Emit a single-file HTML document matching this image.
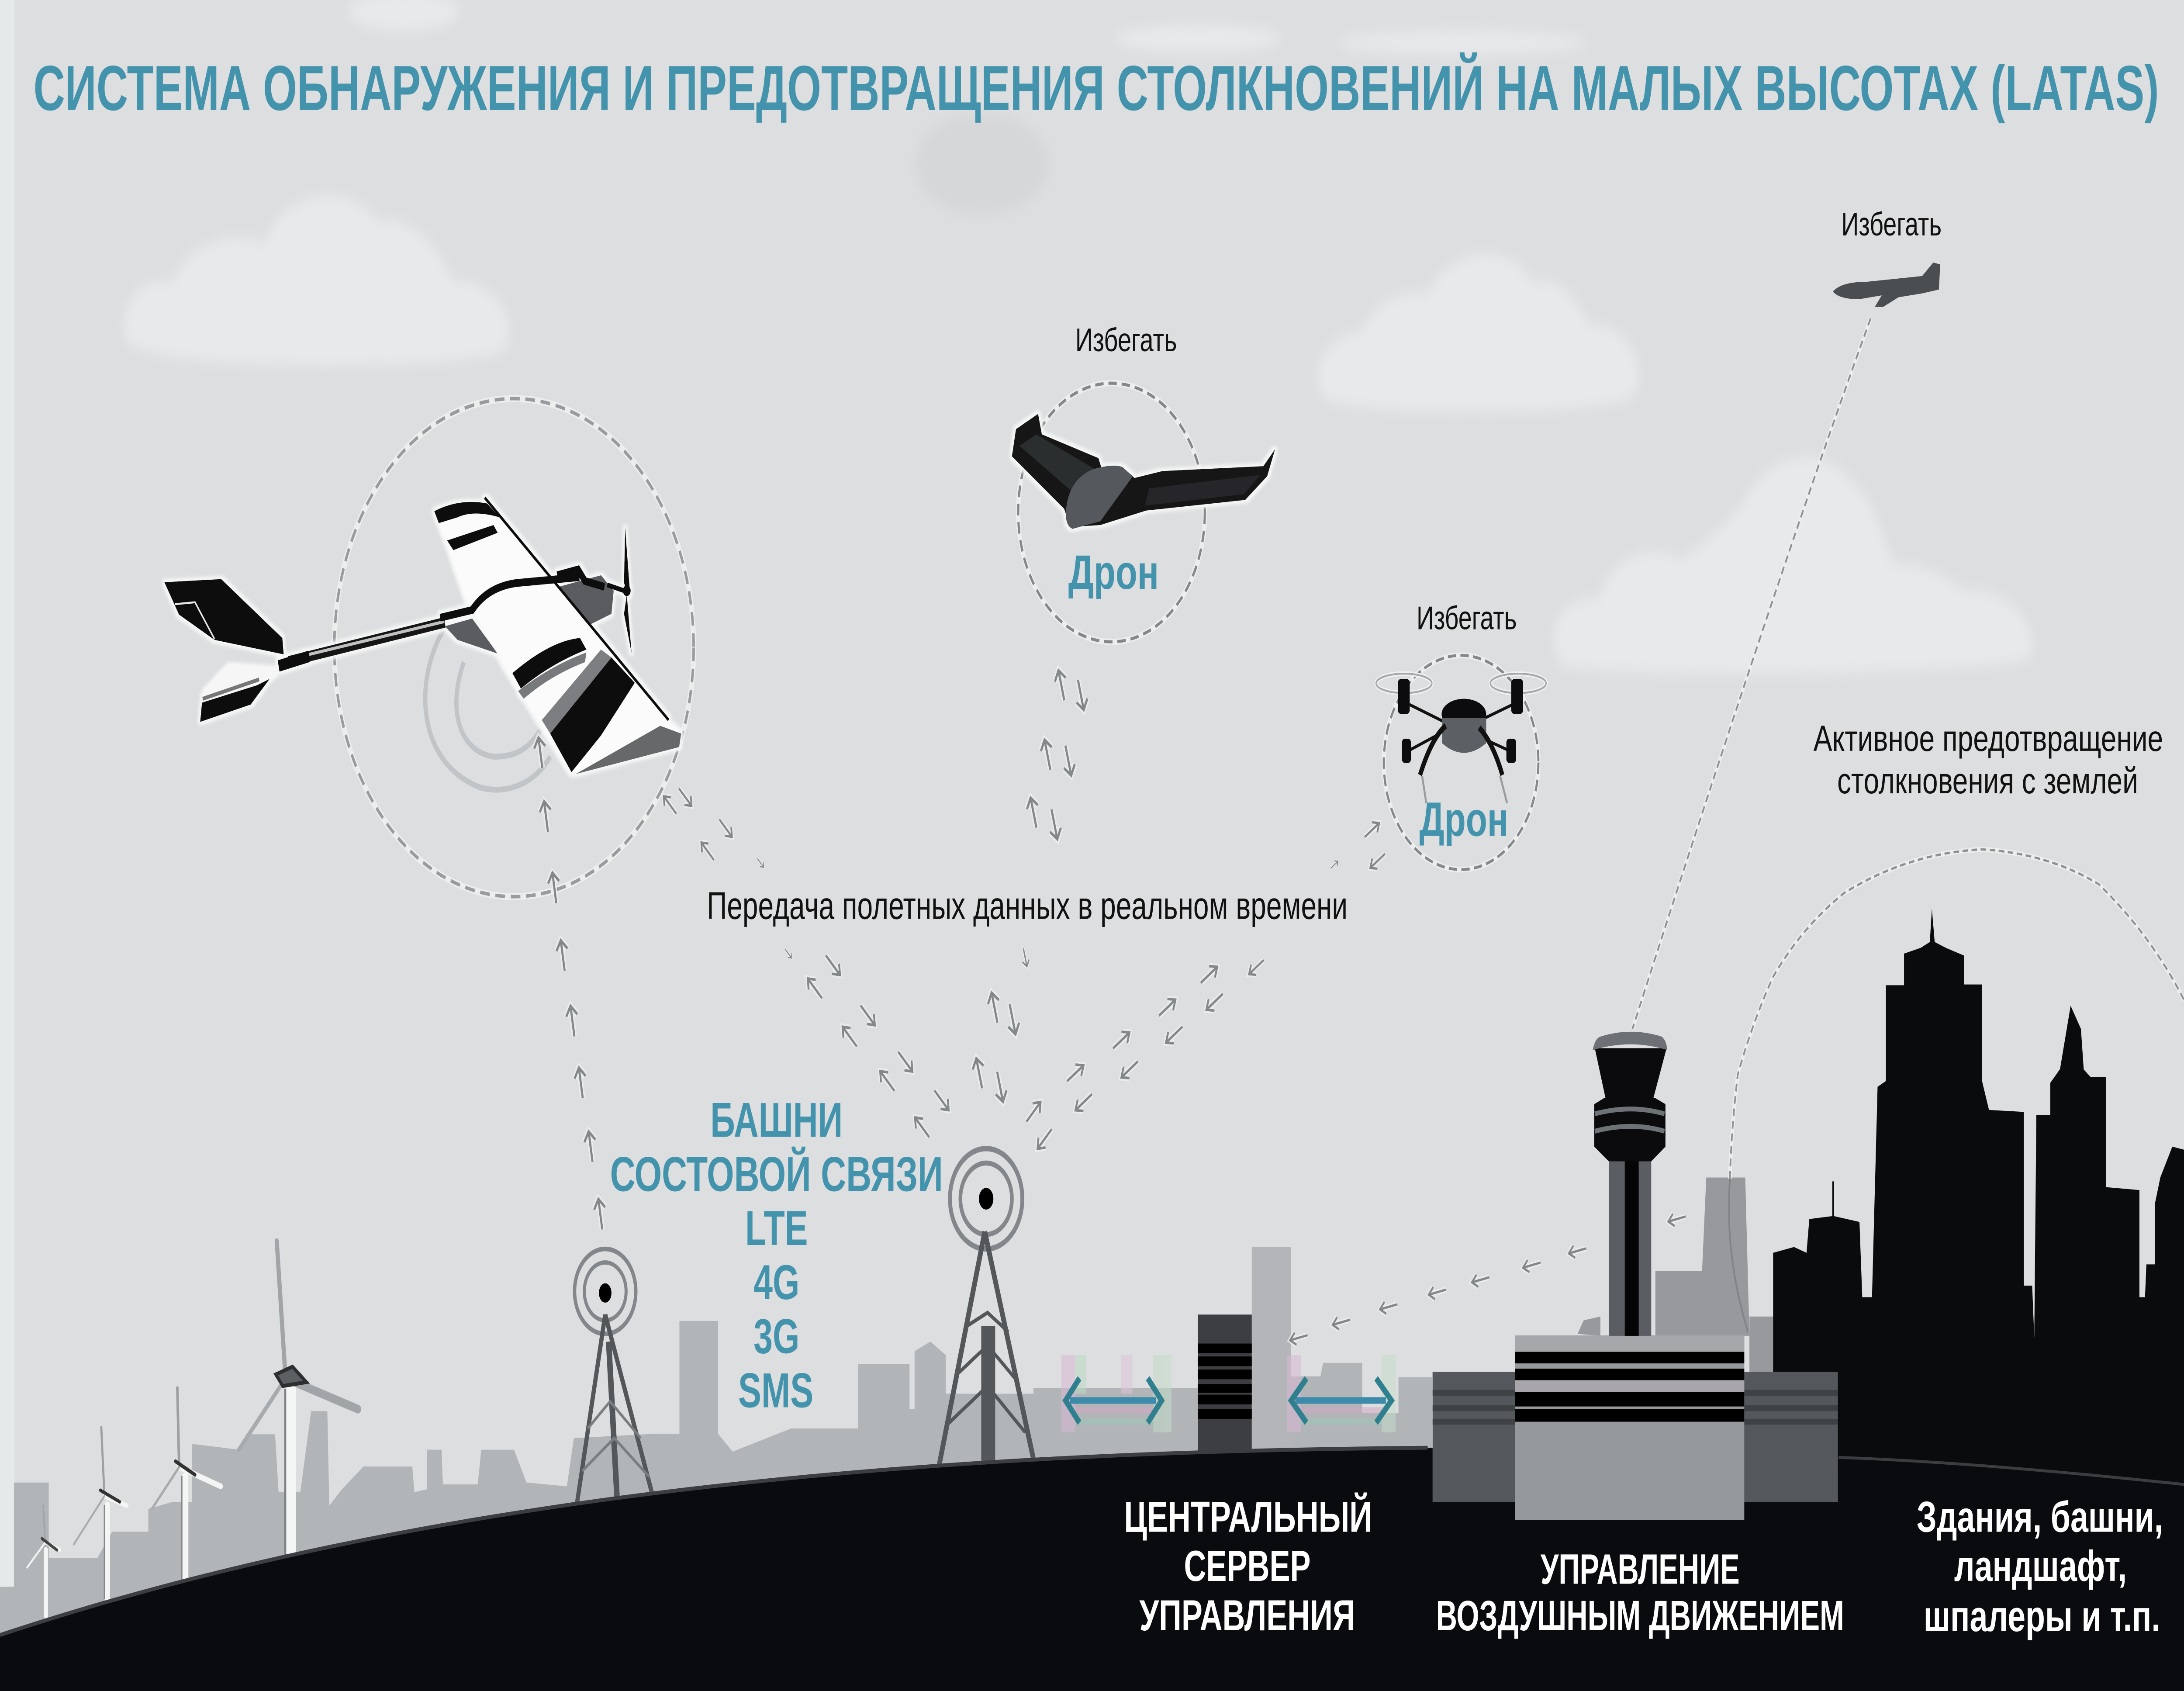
<!DOCTYPE html>
<html lang="ru">
<head>
<meta charset="utf-8">
<title>LATAS</title>
<style>
html,body{margin:0;padding:0;width:100%;height:100%;overflow:hidden;background:#dcdee0}
svg{display:block;position:absolute;left:0;top:0;width:100vw;height:100vh}
text{font-family:"Liberation Sans","DejaVu Sans",sans-serif}
.t{font-weight:bold;fill:#4393ad}
.k{fill:#111}
.w{font-weight:bold;fill:#fff}
</style>
</head>
<body>
<svg xmlns="http://www.w3.org/2000/svg" viewBox="0 0 1568 876" preserveAspectRatio="none">
<defs>
<filter id="b6" x="-20%" y="-30%" width="140%" height="160%"><feGaussianBlur stdDeviation="3.5"/></filter>
<filter id="h" x="-20%" y="-20%" width="140%" height="140%"><feMorphology in="SourceAlpha" operator="dilate" radius="1.6" result="d"/><feGaussianBlur in="d" stdDeviation="0.9" result="g"/><feFlood flood-color="#f6f7f7"/><feComposite in2="g" operator="in"/><feMerge><feMergeNode/><feMergeNode in="SourceGraphic"/></feMerge></filter>
<g id="a">
<path d="M0 8V-8M-4 -3L0 -8L4 -3" fill="none" stroke="#eff0f0" stroke-width="3.6" opacity=".75"/>
<path d="M0 8V-8M-4 -3L0 -8L4 -3" fill="none" stroke="#85888b" stroke-width="1.5"/>
</g>
</defs>

<rect width="1568" height="876" fill="#dcdee0"/>
<rect width="10.4" height="876" fill="#e5e9e9"/>

<!-- clouds -->
<g fill="#e8e9ea" filter="url(#b6)">
<path d="M92 178C82 160 100 142 125 146C135 122 175 120 190 126C200 100 250 92 270 114C300 112 315 130 325 145C350 145 372 160 364 180C358 192 120 194 92 178Z"/>
<path d="M950 206C938 190 955 172 978 172C985 155 1012 150 1025 152C1040 128 1085 124 1100 146C1120 142 1135 158 1140 168C1162 166 1184 185 1174 204C1165 216 965 216 950 206Z"/>
<path d="M1120 344C1108 325 1122 308 1148 310C1155 288 1190 280 1205 290C1225 282 1240 270 1250 262C1270 232 1310 230 1330 250C1350 262 1350 280 1360 292C1385 292 1400 300 1410 306C1440 304 1464 322 1458 340C1452 350 1135 352 1120 344Z"/>
<ellipse cx="290" cy="6" rx="40" ry="10"/><ellipse cx="860" cy="20" rx="60" ry="7"/><ellipse cx="1050" cy="22" rx="90" ry="6"/>
</g>
<ellipse cx="705" cy="85" rx="48" ry="26" fill="#d5d7d9" filter="url(#b6)"/>

<!-- background city -->
<path fill="#b2b5b8" d="M0 822H10V768H35V807H70L80.5 793.5H106.5V781.7L124 778H138V748L171.5 751L176.7 743H197.5L200 773H215.6L223.4 731H235L236.4 780L245.5 771.5L261 759.7H296L297.5 773L306.6 771.5V751H317L318 769H343L345.5 751H369L378 768L407 770L412 745L471 742.7H487.8V684.3H515.5V742.7L526 752L568 740L616 740V706.6H653V730H656.6V700L668 695L679 702V722H742V719L861 719V770H700V860H0Z"/>
<path fill="#b3b5b8" d="M898.7 646H927V756H898.7Z"/>
<path fill="#b2b5b8" d="M927 713H948L950 706H978V732H1004V713.5H1028V760H927Z"/>
<path fill="#97999d" d="M1132.6 691L1137 684L1149 682V692ZM1188.5 692V658.4H1222L1225 610H1253L1256 692ZM1256 692V682H1273V712H1256Z"/>

<!-- wind turbines -->
<g>
<g fill="none" stroke-linecap="round">
<path d="M209 720V807" stroke="#f4f5f5" stroke-width="7"/><path d="M204.8 720V807" stroke="#7f8285" stroke-width="1.4"/>
<path d="M205 714L198.7 643" stroke="#a2a5a8" stroke-width="3"/><path d="M205 714L257 730" stroke="#a2a5a8" stroke-width="4.5"/><path d="M205 714L171.5 751" stroke="#a8abae" stroke-width="2.5"/>
<path d="M198 712L203 718L220 716L210 708Z" fill="#5d6063" stroke="#2c2e30" stroke-width="2"/>
<path d="M133 765V819" stroke="#f4f5f5" stroke-width="4.5"/><path d="M130.5 765V819" stroke="#85888b" stroke-width="1"/>
<path d="M128.6 760L127.3 719" stroke="#9da0a3" stroke-width="1.8"/><path d="M128.6 760L158.5 770" stroke="#f3f4f4" stroke-width="3"/><path d="M128.6 760L109 781.7" stroke="#a8abae" stroke-width="1.5"/>
<path d="M126 757L140 764" stroke="#333" stroke-width="2"/>
<path d="M77 780V828" stroke="#f4f5f5" stroke-width="4"/><path d="M75 780V828" stroke="#85888b" stroke-width="1"/>
<path d="M75 775L72.7 739.4" stroke="#9da0a3" stroke-width="1.5"/><path d="M75 775L91 780" stroke="#f3f4f4" stroke-width="2.5"/><path d="M75 775L53 800" stroke="#a8abae" stroke-width="1.2"/>
<path d="M72 772L86 778" stroke="#333" stroke-width="1.8"/>
<path d="M33 803V837" stroke="#f4f5f5" stroke-width="3"/>
<path d="M32.5 799L31 780" stroke="#a2a5a8" stroke-width="1.2"/><path d="M32.5 799L43 803" stroke="#f3f4f4" stroke-width="2"/><path d="M32.5 799L19.5 812" stroke="#f0f1f1" stroke-width="1.2"/>
<path d="M30 797L41 803" stroke="#444" stroke-width="1.6"/>
</g>
</g>

<!-- noise patches behind teal arrows -->
<g opacity=".55">
<rect x="762" y="702" width="10" height="40" fill="#d9b8d4"/><rect x="772" y="702" width="8" height="20" fill="#bcdcc4"/><rect x="805" y="702" width="8" height="20" fill="#e1c4dc"/><rect x="828" y="702" width="13" height="40" fill="#c4dcc8"/>
<rect x="772" y="729" width="56" height="3" fill="#d4a8c4"/><rect x="772" y="735" width="56" height="3" fill="#9cc8b8"/>
<rect x="924" y="702" width="10" height="40" fill="#d9b8d4"/><rect x="992" y="702" width="10" height="40" fill="#c4dcc8"/><rect x="934" y="729" width="58" height="3" fill="#d4a8c4"/><rect x="934" y="735" width="58" height="3" fill="#9cc8b8"/>
</g>

<!-- server building -->
<rect x="860" y="681" width="38.7" height="72" fill="#3c3e42"/>
<g fill="#000"><rect x="860" y="696" width="38.7" height="5"/><rect x="860" y="702.7" width="38.7" height="5"/><rect x="860" y="709.5" width="38.7" height="5"/><rect x="860" y="717" width="38.7" height="4.5"/><rect x="860" y="722.5" width="38.7" height="5"/><rect x="860" y="730" width="38.7" height="5"/></g>

<!-- radio towers -->
<g fill="none" stroke="#54575a">
<circle cx="434.5" cy="669" r="22" stroke-width="2.4" stroke="#83868a"/><circle cx="434.5" cy="669" r="15" stroke-width="2.2" stroke="#83868a"/>
<path d="M434.5 681L414 780M434.5 681L469 776" stroke-width="3"/>
<path d="M437 695L443 776" stroke-width="4"/>
<path d="M422 740L438 726L460 745M418 762L441 745L466 765" stroke-width="1.6" stroke="#7b7e81"/>
<circle cx="708" cy="621" r="26" stroke-width="2.8" stroke="#83868a"/><circle cx="708" cy="621" r="18.5" stroke-width="2.6" stroke="#83868a"/>
<path d="M707 638L674 760M707 638L742 756" stroke-width="3.4"/>
<path d="M709.5 687V757" stroke-width="10"/>
<path d="M694 687L709 680L724 690M687 712L709 697L731 716M680 738L709 718L736 742" stroke-width="2"/>
</g>
<ellipse cx="434.5" cy="669.8" rx="4.5" ry="5" fill="#000"/>
<ellipse cx="708" cy="621" rx="5.2" ry="5.6" fill="#000"/>

<!-- ground -->
<path d="M0 847C300 775 650 752 1025 750C1200 750 1400 757 1568 769V876H0Z" fill="#0a0b0f"/>
<path d="M0 847C300 775 650 752 1025 750" fill="none" stroke="#3b3d41" stroke-width="2"/>

<!-- skyline -->
<path fill="#0a0b0d" d="M1273 760V649L1288 646L1297 649L1299 631.5L1315.5 630V612H1316.8V630L1335 633L1337 672H1344L1348 563L1354 560V510.4H1367V494L1379 491L1385.5 488L1387 470.7L1389 488L1397 491L1410 495V510H1423V560L1428 575L1453 576V666H1459L1460.5 693L1462 577.7H1472V561L1479 553.8L1486.6 521L1494 533L1496 554L1501 558H1512V615L1536 616.5V672H1540L1541 655H1547V624L1551 610L1559.6 594L1568 595.6V769L1320 756V760Z"/>
<path d="M1320 755C1400 757 1490 763 1568 769" fill="none" stroke="#3b3d41" stroke-width="1.5"/>

<!-- ATC building -->
<rect x="1028.5" y="710.7" width="291" height="67.5" fill="#54575b"/>
<g fill="#3f4245"><rect x="1028.5" y="720" width="291" height="3"/><rect x="1028.5" y="728" width="291" height="3"/><rect x="1028.5" y="735" width="291" height="3"/></g>
<rect x="1087.7" y="691.8" width="164.6" height="95.7" fill="#95989c"/>
<rect x="1087.7" y="691.8" width="164.6" height="8.5" fill="#a5a7aa"/>
<g fill="#000"><rect x="1087.7" y="700.3" width="164.6" height="6"/><rect x="1087.7" y="709" width="164.6" height="6"/><rect x="1087.7" y="721" width="164.6" height="7.6"/><rect x="1087.7" y="730" width="164.6" height="6.5"/></g>
<rect x="1087.7" y="715" width="164.6" height="6" fill="#a9a6ab"/>
<!-- ATC tower -->
<rect x="1155" y="601" width="30.5" height="91" fill="#5a5d61"/>
<rect x="1166.5" y="601" width="10" height="91" fill="#050505"/>
<path d="M1145 543L1196.5 543L1187 569H1152.7Z" fill="#0b0b0d"/>
<path d="M1143.5 544Q1145 538 1149 537Q1171 532 1193 537Q1196.5 539 1197 544Q1171 538 1143.5 544Z" fill="#6d7074"/>
<path d="M1144.6 572L1152 568.7H1188L1195.7 572V594L1185.5 601.6H1155L1144.6 594Z" fill="#0b0b0d"/>
<path d="M1145 577Q1171 572 1195 577M1145 586Q1171 581 1195 586" stroke="#6e7175" stroke-width="2.5" fill="none"/>

<!-- dashed lines -->
<g fill="none" stroke-linecap="butt">
<path d="M1343 165Q1280 290 1172 533" stroke="#eceded" stroke-width="2.6"/>
<path d="M1343 165Q1280 290 1172 533" stroke="#8f9295" stroke-width="1.2" stroke-dasharray="4 2.5"/>
<path d="M1242 610.6Q1243 585 1247.6 556.7Q1258 530 1273 506Q1294 480 1324 462.6Q1370 442 1422.7 440Q1470 442 1506.7 458Q1545 485 1568 518" stroke="#eceded" stroke-width="2.6"/>
<path d="M1242 610.6Q1243 585 1247.6 556.7Q1258 530 1273 506Q1294 480 1324 462.6Q1370 442 1422.7 440Q1470 442 1506.7 458Q1545 485 1568 518" stroke="#8f9295" stroke-width="1.2" stroke-dasharray="4 2.5"/>
<path d="M1242 610.6Q1238 650 1255 690" stroke="#808387" stroke-width="1.2"/>
<circle cx="369" cy="335.5" r="129" stroke="#eceded" stroke-width="3.6"/>
<circle cx="369" cy="335.5" r="129" stroke="#999c9f" stroke-width="1.8" stroke-dasharray="7 4"/>
<circle cx="798" cy="265.5" r="67" stroke="#eceded" stroke-width="3.2"/>
<circle cx="798" cy="265.5" r="67" stroke="#85888b" stroke-width="1.6" stroke-dasharray="6 3.5"/>
<circle cx="1049" cy="395" r="55.5" stroke="#eceded" stroke-width="3"/>
<circle cx="1049" cy="395" r="55.5" stroke="#85888b" stroke-width="1.5" stroke-dasharray="6 3"/>
</g>

<!-- ripples under plane -->
<g fill="none" stroke="#c2c5c7">
<path d="M322 322C296 350 298 395 345 408C365 412 385 405 395 392" stroke-width="3"/>
<path d="M333 343C320 370 332 390 355 392C370 392 380 388 388 378" stroke-width="3"/>
</g>

<!-- arrows: plane column -->
<g>
<use href="#a" transform="translate(431 629) rotate(-10)"/>
<use href="#a" transform="translate(424 594) rotate(-10)"/>
<use href="#a" transform="translate(417 561) rotate(-10)"/>
<use href="#a" transform="translate(411 529) rotate(-10)"/>
<use href="#a" transform="translate(404 495) rotate(-10)"/>
<use href="#a" transform="translate(398 460) rotate(-10)"/>
<use href="#a" transform="translate(392 423) rotate(-10)"/>
<use href="#a" transform="translate(388 390) rotate(-10)"/>
<!-- middle column -->
<use href="#a" transform="translate(762 355) rotate(-15)"/><use href="#a" transform="translate(776 360) rotate(165)"/>
<use href="#a" transform="translate(752 391) rotate(-15)"/><use href="#a" transform="translate(767 394) rotate(165)"/>
<use href="#a" transform="translate(742 421) rotate(-15)"/><use href="#a" transform="translate(757 427) rotate(165)"/>
<use href="#a" transform="translate(736 496) rotate(165) scale(.6)"/>
<use href="#a" transform="translate(714 522) rotate(-15)"/><use href="#a" transform="translate(727 528) rotate(165)"/>
<use href="#a" transform="translate(703 556) rotate(-15)"/><use href="#a" transform="translate(718 563) rotate(165)"/>
<!-- left diagonal -->
<use href="#a" transform="translate(492 413) rotate(135) scale(.8)"/><use href="#a" transform="translate(481 417) rotate(-45) scale(.8)"/>
<use href="#a" transform="translate(521 429) rotate(135) scale(.8)"/><use href="#a" transform="translate(508 441) rotate(-45) scale(.8)"/>
<use href="#a" transform="translate(598 500) rotate(135) scale(.9)"/><use href="#a" transform="translate(585 512) rotate(-45) scale(.9)"/>
<use href="#a" transform="translate(623 526) rotate(135) scale(.9)"/><use href="#a" transform="translate(610 537) rotate(-45) scale(.9)"/>
<use href="#a" transform="translate(650 550) rotate(135) scale(.9)"/><use href="#a" transform="translate(637 560) rotate(-45) scale(.9)"/>
<use href="#a" transform="translate(676 570) rotate(135) scale(.9)"/><use href="#a" transform="translate(662 584) rotate(-45) scale(.9)"/>
<use href="#a" transform="translate(566 494) rotate(135) scale(.4)"/><use href="#a" transform="translate(546 447) rotate(135) scale(.4)"/>
<!-- right diagonal -->
<use href="#a" transform="translate(742 576) rotate(45) scale(.9)"/><use href="#a" transform="translate(750 590) rotate(225) scale(.9)"/>
<use href="#a" transform="translate(772 556) rotate(55) scale(.9)"/><use href="#a" transform="translate(778 571) rotate(235) scale(.9)"/>
<use href="#a" transform="translate(805 539) rotate(55) scale(.9)"/><use href="#a" transform="translate(811 554) rotate(235) scale(.9)"/>
<use href="#a" transform="translate(838 522) rotate(55) scale(.9)"/><use href="#a" transform="translate(843 536) rotate(235) scale(.9)"/>
<use href="#a" transform="translate(868 505) rotate(55) scale(.9)"/><use href="#a" transform="translate(872 519) rotate(235) scale(.9)"/>
<use href="#a" transform="translate(902 501) rotate(235) scale(.8)"/>
<use href="#a" transform="translate(985 430) rotate(55) scale(.8)"/><use href="#a" transform="translate(989 446) rotate(235) scale(.8)"/>
<use href="#a" transform="translate(958 448) rotate(55) scale(.4)"/>
<!-- ATC arrows -->
<use href="#a" transform="translate(1204 631.5) rotate(-102) scale(.8)"/>
<use href="#a" transform="translate(1132.6 648) rotate(-102) scale(.8)"/>
<use href="#a" transform="translate(1099.7 655.4) rotate(-102) scale(.8)"/>
<use href="#a" transform="translate(1063 663) rotate(-102) scale(.8)"/>
<use href="#a" transform="translate(1032 669.4) rotate(-102) scale(.8)"/>
<use href="#a" transform="translate(997 677) rotate(-102) scale(.8)"/>
<use href="#a" transform="translate(963 685) rotate(-102) scale(.8)"/>
<use href="#a" transform="translate(932.5 693) rotate(-102) scale(.8)"/>
</g>

<!-- plane -->
<g filter="url(#h)">
<path d="M118 301.6L158.8 300L202.7 330.5L203.7 339L154 331.5L128.5 318.4Z" fill="#0c0c0e"/>
<path d="M125.5 313L140 312L154 331" fill="none" stroke="#e8e8e8" stroke-width="1"/>
<path d="M146.7 358.8L165 344.6L201 346.6L193.6 351.7L184.5 356.7L146 366Z" fill="#f6f6f6"/>
<path d="M145 364L184.5 355L193.6 351.7L180 365L143.7 374Z" fill="#0c0c0e"/>
<path d="M145.5 362L186 352" stroke="#777" stroke-width="2" fill="none"/>
<path d="M207.3 342.6L319.4 322.4" stroke="#141416" stroke-width="5.5"/>
<path d="M222 339L319 322" stroke="#bfc1c3" stroke-width="1.6"/>
<path d="M200 345L222 340" stroke="#111" stroke-width="6"/>
<path d="M319.4 324.4L339 320.4L357.3 338.6L328.5 331.5Z" fill="#5a5c5f"/>
<path d="M401 304L431.5 298L440.6 306L439 318L424 323.4Z" fill="#5a5c5f"/>
<path d="M311.8 264.8L349.7 260.8L480 374L489 380L487.6 387L410.3 401L363.3 346.6L334.5 310L321 282Z" fill="#fbfbfb"/>
<path d="M311.8 264.8Q330 258 349.7 260.8L358.8 268Q340 264 328.5 268L315 271Z" fill="#0c0c0e"/>
<path d="M321 280L354.3 272L357.3 276L325.5 285Z" fill="#0c0c0e"/>
<path d="M367.9 348.7Q395 332 416.4 330.5L421 336.5Q395 344 374 356.7Z" fill="#0c0c0e"/>
<path d="M372 358Q395 345 421 338L420 343Q395 350 376 362Z" fill="#77797c"/>
<path d="M389 373L431.5 336.5L439 340.6L395 380Z" fill="#7c7e81"/>
<path d="M395 380L439 340.6L455.7 353.7L431.5 381L410.3 400Z" fill="#0a0a0c"/>
<path d="M413.3 401L474 376L489 380L487.6 387Z" fill="#66686b"/>
<path d="M348 257.8L480 373" stroke="#0a0a0c" stroke-width="1.6" fill="none"/>
<path d="M316 320L339 316Q350 304 371 302L416 299" stroke="#0c0c0e" stroke-width="4" fill="none"/>
<path d="M400 298L415 295L420 301L434 304" stroke="#111" stroke-width="4" fill="none"/>
<path d="M448.8 273L452 304L450 306L448 302ZM450 308L453.5 338.6L448 318Z" fill="#0c0c0e"/>
<circle cx="450" cy="306" r="2.8" fill="#0c0c0e"/>
<path d="M436 303L448 306" stroke="#0c0c0e" stroke-width="2.5"/>
</g>

<!-- flying wing drone -->
<g filter="url(#h)">
<path d="M745.3 214.4L748 225L788.6 237.3L791.5 243.9L806 242L814.5 247.6L834.7 244L907 241.5L915.5 232.6L909.8 246.7L894 259L823 264.5L790 272L768.4 273L764 263.6L726.5 236.4L729.4 222.3Z" fill="#151617"/>
<path d="M732 231L744 225L786 243L775 258Z" fill="#2c2d2f"/>
<path d="M825 253L905 246L893 256L822 262Z" fill="#272829"/>
<path d="M765.5 263Q768 248 785 243Q800 240 806 242L813 247L790 270L770 274Q764 272 765.5 263Z" fill="#55585b"/>
</g>

<!-- quad drone -->
<g>
<g fill="none" stroke="#eff0f0" stroke-width="2.5"><ellipse cx="1008" cy="354" rx="20" ry="5"/><ellipse cx="1090" cy="354" rx="20" ry="5"/></g>
<g fill="none" stroke="#a7aaad" stroke-width="1"><ellipse cx="1008" cy="354" rx="20" ry="5"/><ellipse cx="1090" cy="354" rx="20" ry="5"/></g>
<g stroke="#111" stroke-width="1.6"><path d="M1012 365L1037 374M1086 365L1066 372M1011 389L1034 380M1084 389L1063 382"/></g>
<g fill="#0c0c0e"><rect x="1003.6" y="351.8" width="8.5" height="18" rx="2"/><rect x="1085" y="351.8" width="8.5" height="18" rx="2"/><rect x="1006.5" y="382.7" width="6.5" height="12.5" rx="2"/><rect x="1081.5" y="382.7" width="7" height="12.5" rx="2"/></g>
<ellipse cx="1051" cy="370" rx="16" ry="8" fill="#0c0c0e"/>
<path d="M1035.3 372H1067V385Q1051 395 1035.3 385Z" fill="#5c5f63"/>
<path d="M1038 376Q1028 382 1019.5 401.5M1062 377Q1072 385 1078.6 401.5" fill="none" stroke="#111" stroke-width="3"/>
<path d="M1021 402L1024 416M1077 402L1082 416" fill="none" stroke="#9a9da0" stroke-width="1.4"/>
</g>

<!-- airliner -->
<path d="M1316 151Q1322 146 1340 146L1380 143L1388 136L1393 137L1392 150L1380 152L1363 154L1352 159H1346L1351 153L1335 155Q1320 155 1316 151Z" fill="#4b4e51"/>

<!-- teal double arrows -->
<g fill="none" stroke-linejoin="miter">
<path d="M768 725.5H830" stroke="#3e8aab" stroke-width="3.4"/>
<path d="M775 714L765 725.5L775 737M824 714L834 725.5L824 737" stroke="#2f7f8f" stroke-width="3.4"/>
<path d="M930 725.5H995" stroke="#3e8aab" stroke-width="3.4"/>
<path d="M938 714L927 725.5L938 737M988 714L999 725.5L988 737" stroke="#2f7f8f" stroke-width="3.4"/>
</g>

<!-- text -->
<text class="t" x="24" y="57" font-size="33" textLength="1526" lengthAdjust="spacingAndGlyphs">СИСТЕМА ОБНАРУЖЕНИЯ И ПРЕДОТВРАЩЕНИЯ СТОЛКНОВЕНИЙ НА МАЛЫХ ВЫСОТАХ (LATAS)</text>

<text class="k" x="772" y="182" font-size="17" textLength="73" lengthAdjust="spacingAndGlyphs">Избегать</text>
<text class="k" x="1017" y="326" font-size="17" textLength="72" lengthAdjust="spacingAndGlyphs">Избегать</text>
<text class="k" x="1322" y="122" font-size="17" textLength="72" lengthAdjust="spacingAndGlyphs">Избегать</text>

<text class="t" x="767" y="305" font-size="25" textLength="65" lengthAdjust="spacingAndGlyphs">Дрон</text>
<text class="t" x="1019" y="433" font-size="25" textLength="64" lengthAdjust="spacingAndGlyphs">Дрон</text>

<text class="k" x="507.5" y="476" font-size="20" textLength="460" lengthAdjust="spacingAndGlyphs">Передача полетных данных в реальном времени</text>

<text class="k" x="1302" y="389" font-size="19" textLength="251" lengthAdjust="spacingAndGlyphs">Активное предотвращение</text>
<text class="k" x="1319" y="411" font-size="19" textLength="216" lengthAdjust="spacingAndGlyphs">столкновения с землей</text>

<text class="t" x="510" y="589" font-size="25.5" textLength="95" lengthAdjust="spacingAndGlyphs">БАШНИ</text>
<text class="t" x="438" y="617" font-size="25.5" textLength="239" lengthAdjust="spacingAndGlyphs">СОСТОВОЙ СВЯЗИ</text>
<text class="t" x="535" y="645" font-size="25.5" textLength="45" lengthAdjust="spacingAndGlyphs">LTE</text>
<text class="t" x="541" y="673" font-size="25.5" textLength="33" lengthAdjust="spacingAndGlyphs">4G</text>
<text class="t" x="541" y="701" font-size="25.5" textLength="33" lengthAdjust="spacingAndGlyphs">3G</text>
<text class="t" x="530" y="729" font-size="25.5" textLength="54" lengthAdjust="spacingAndGlyphs">SMS</text>

<text class="w" x="807" y="793.5" font-size="22.5" textLength="178" lengthAdjust="spacingAndGlyphs">ЦЕНТРАЛЬНЫЙ</text>
<text class="w" x="850" y="819" font-size="22.5" textLength="91" lengthAdjust="spacingAndGlyphs">СЕРВЕР</text>
<text class="w" x="818" y="844.5" font-size="22.5" textLength="155" lengthAdjust="spacingAndGlyphs">УПРАВЛЕНИЯ</text>

<text class="w" x="1106" y="820.5" font-size="22" textLength="143" lengthAdjust="spacingAndGlyphs">УПРАВЛЕНИЕ</text>
<text class="w" x="1031" y="844.5" font-size="22" textLength="293" lengthAdjust="spacingAndGlyphs">ВОЗДУШНЫМ ДВИЖЕНИЕМ</text>

<text class="w" x="1376" y="793.5" font-size="22.5" textLength="177" lengthAdjust="spacingAndGlyphs">Здания, башни,</text>
<text class="w" x="1403" y="819" font-size="22.5" textLength="124" lengthAdjust="spacingAndGlyphs">ландшафт,</text>
<text class="w" x="1381" y="845" font-size="22.5" textLength="170" lengthAdjust="spacingAndGlyphs">шпалеры и т.п.</text>
</svg>
</body>
</html>
